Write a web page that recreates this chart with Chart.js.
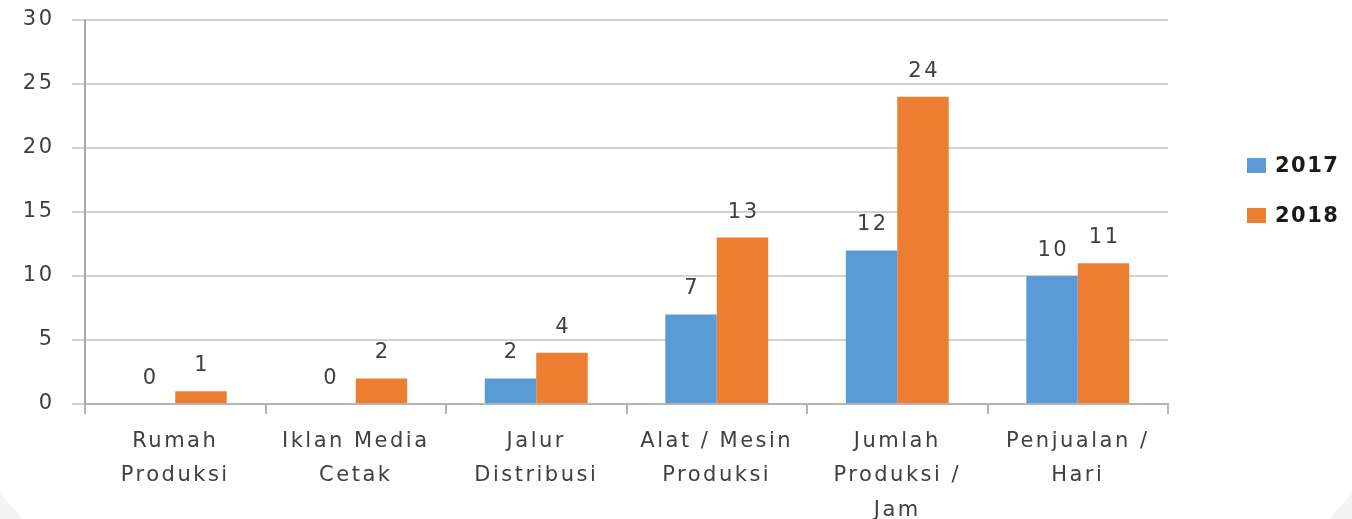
<!DOCTYPE html>
<html>
<head>
<meta charset="utf-8">
<script src="https://cdn.jsdelivr.net/npm/chart.js@4.4.1/dist/chart.umd.min.js"></script>
<style>
  html, body { margin: 0; padding: 0; background: #f3f3f3; overflow: hidden; }
  #wrap {
    width: 1352px; height: 519px; background: #ffffff; position: relative;
    clip-path: polygon(0 0, 100% 0, 100% 95%, 98.3% 100%, 1.7% 100%, 0 95%);
  }
  canvas { display: block; }
</style>
</head>
<body>
<div id="wrap"><canvas id="c" width="1352" height="519"></canvas></div>
<script>
const categories = [
  ["Rumah", "Produksi"],
  ["Iklan Media", "Cetak"],
  ["Jalur", "Distribusi"],
  ["Alat / Mesin", "Produksi"],
  ["Jumlah", "Produksi /", "Jam"],
  ["Penjualan /", "Hari"]
];
const seriesNames = ["2017", "2018"];
const values2017 = [0, 0, 2, 7, 12, 10];
const values2018 = [1, 2, 4, 13, 24, 11];
const yTicks = [0, 5, 10, 15, 20, 25, 30];

const COLORS = ["#5B9BD5", "#ED7D31"];
const TEXT = "#404040";
const FONT_FAMILY = "'DejaVu Sans', sans-serif";
const LS = "2.5px";

const spacingPlugin = {
  id: 'spacing',
  beforeInit(chart) { chart.ctx.letterSpacing = LS; },
  beforeLayout(chart) { chart.ctx.letterSpacing = LS; },
  beforeDraw(chart) { chart.ctx.letterSpacing = LS; }
};

const labelPlugin = {
  id: 'barLabels',
  afterDatasetsDraw(chart) {
    const ctx = chart.ctx;
    ctx.save();
    ctx.letterSpacing = LS;
    ctx.font = "21px " + FONT_FAMILY;
    ctx.fillStyle = TEXT;
    ctx.textAlign = 'center';
    ctx.textBaseline = 'alphabetic';
    chart.data.datasets.forEach((ds, i) => {
      const meta = chart.getDatasetMeta(i);
      meta.data.forEach((bar, j) => {
        ctx.fillText(String(ds.data[j]), bar.x + 1.25, bar.y - 20);
      });
    });
    ctx.restore();
  }
};

const legendPlugin = {
  id: 'customLegend',
  afterDraw(chart) {
    const ctx = chart.ctx;
    ctx.save();
    ctx.letterSpacing = "1.5px";
    ctx.font = "bold 21px " + FONT_FAMILY;
    ctx.textAlign = 'left';
    ctx.textBaseline = 'middle';
    const ys = [165.5, 215.5];
    seriesNames.forEach((name, i) => {
      ctx.fillStyle = COLORS[i];
      ctx.fillRect(1247, ys[i] - 7.5, 19, 15);
      ctx.fillStyle = "#1a1a1a";
      ctx.fillText(name, 1275, ys[i] + 1);
    });
    ctx.restore();
  }
};

new Chart(document.getElementById('c'), {
  type: 'bar',
  data: {
    labels: categories,
    datasets: [
      { label: seriesNames[0], data: values2017, backgroundColor: COLORS[0], borderWidth: 0 },
      { label: seriesNames[1], data: values2018, backgroundColor: COLORS[1], borderWidth: 0 }
    ]
  },
  options: {
    responsive: false,
    animation: false,
    events: [],
    layout: { padding: { top: 20, right: 184, left: 0, bottom: 0 } },
    datasets: { bar: { categoryPercentage: 0.57, barPercentage: 1.0 } },
    plugins: { legend: { display: false }, tooltip: { enabled: false } },
    scales: {
      x: {
        offset: true,
        grid: { offset: true, drawOnChartArea: false, drawTicks: true, tickLength: 10, color: '#b4b4b4', lineWidth: 2 },
        border: { display: true, color: '#b4b4b4', width: 2 },
        ticks: {
          color: TEXT, padding: 11, maxRotation: 0, autoSkip: false,
          font: { family: FONT_FAMILY, size: 21, lineHeight: 1.62 }
        },
        afterFit(s) { s.height = 115; s.paddingLeft = 0; s.paddingRight = 0; }
      },
      y: {
        min: 0, max: 30,
        afterBuildTicks(s) { s.ticks = yTicks.map(v => ({ value: v })); },
        grid: { color: '#d2d2d2', lineWidth: 2, tickLength: 13, drawTicks: true },
        border: { display: true, color: '#a8a8a8', width: 2 },
        ticks: {
          color: TEXT, padding: 17.5,
          font: { family: FONT_FAMILY, size: 21 }
        },
        afterFit(s) { s.width = 85; s.paddingTop = 0; s.paddingBottom = 0; }
      }
    }
  },
  plugins: [spacingPlugin, labelPlugin, legendPlugin]
});
</script>
</body>
</html>
